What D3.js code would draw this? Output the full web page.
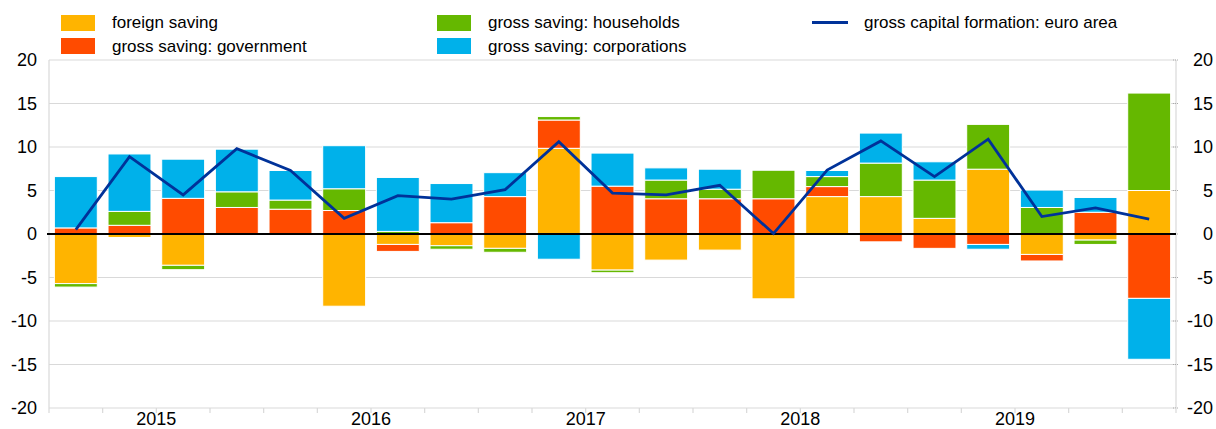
<!DOCTYPE html>
<html><head><meta charset="utf-8">
<script src="https://cdn.jsdelivr.net/npm/d3@7"></script>
<style>
html,body{margin:0;padding:0;background:#fff;}
svg text{font-family:"Liberation Sans",Arial,sans-serif;fill:#000;}
</style></head>
<body><svg id="c" width="1216" height="429"></svg>
<script>
const quarters = ["2015Q1","2015Q2","2015Q3","2015Q4","2016Q1","2016Q2","2016Q3","2016Q4","2017Q1","2017Q2","2017Q3","2017Q4","2018Q1","2018Q2","2018Q3","2018Q4","2019Q1","2019Q2","2019Q3","2019Q4","2020Q1"];
const yearLabels = ["2015","2016","2017","2018","2019"];
const yTicks = [-20,-15,-10,-5,0,5,10,15,20];
const seriesNames = ["foreign saving","gross saving: government","gross saving: households","gross saving: corporations"];
const lineName = "gross capital formation: euro area";
const foreignSaving = [-5.7,-0.4,-3.6,0,0,-8.3,-1.2,-1.35,-1.65,9.85,-4.15,-3.0,-1.85,-7.45,4.3,4.3,1.8,7.45,-2.35,-0.7,5.0];
const govSaving     = [0.7,1.0,4.1,3.05,2.85,2.7,-0.8,1.3,4.3,3.25,5.5,4.05,4.05,4.05,1.15,-0.9,-1.65,-1.2,-0.75,2.5,-7.4];
const hhSaving      = [-0.4,1.6,-0.5,1.8,1.05,2.5,0.3,-0.4,-0.45,0.4,-0.3,2.15,1.1,3.3,1.15,3.85,4.4,5.15,3.05,-0.5,11.2];
const corpSaving    = [5.9,6.6,4.5,4.9,3.4,4.95,6.2,4.5,2.75,-2.9,3.8,1.4,2.3,0.1,0.7,3.45,2.1,-0.55,2.0,1.7,-7.0];
const capFormation  = [0.5,8.9,4.5,9.8,7.3,1.8,4.4,4.0,5.1,10.6,4.7,4.5,5.6,0.05,7.35,10.7,6.6,10.9,2.0,3.0,1.7];
const colors = ["#FFB400","#FF4B00","#65B800","#00B1EA"];
const lineColor = "#003299";

const svg = d3.select("#c");
const L = 49, R = 1176, T = 60, B = 408;
const x = d3.scaleBand().domain(quarters).range([L, R]).paddingInner(0.2).paddingOuter(0.1);
const y = d3.scaleLinear().domain([-20, 20]).range([B, T]);
const fmt = d => String(d);

// gridlines
svg.append("g").selectAll("line").data(yTicks).join("line")
  .attr("x1", L).attr("x2", R).attr("y1", d => y(d)).attr("y2", d => y(d))
  .attr("stroke", "#d9d9d9").attr("stroke-width", 1.2);
// side borders
svg.append("line").attr("x1", L).attr("x2", L).attr("y1", T).attr("y2", B).attr("stroke", "#d9d9d9").attr("stroke-width", 1.2);
svg.append("line").attr("x1", R).attr("x2", R).attr("y1", T).attr("y2", B).attr("stroke", "#d9d9d9").attr("stroke-width", 1.2);

// axes
const yl = svg.append("g").attr("transform", `translate(${L - 12},0)`)
  .call(d3.axisLeft(y).tickValues(yTicks).tickSize(0).tickPadding(0).tickFormat(fmt));
const yr = svg.append("g").attr("transform", `translate(1213,0)`)
  .call(d3.axisLeft(y).tickValues(yTicks).tickSize(0).tickPadding(0).tickFormat(fmt));
[yl, yr].forEach(g => {
  g.select(".domain").remove();
  g.selectAll("text").style("font-size", "18px").attr("fill", "#000");
});
// small right tick marks
svg.append("g").selectAll("line").data(yTicks).join("line")
  .attr("x1", R - 3).attr("x2", R + 2).attr("y1", d => y(d)).attr("y2", d => y(d))
  .attr("stroke", "#aaa").attr("stroke-width", 1).attr("stroke-dasharray", "1,1");

// bottom tick marks at quarter boundaries
const step = x.step();
const bounds = d3.range(quarters.length + 1).map(i => L + i * step);
svg.append("g").selectAll("line").data(bounds).join("line")
  .attr("x1", d => d).attr("x2", d => d).attr("y1", B).attr("y2", B + 5)
  .attr("stroke", "#d9d9d9").attr("stroke-width", 1.2);
// year labels centered in each year
const xYear = d3.scalePoint().domain(yearLabels).range([L + 2 * step, L + (2 + 4 * (yearLabels.length - 1)) * step]);
svg.append("g").selectAll("text").data(yearLabels).join("text")
  .attr("x", d => xYear(d)).attr("y", 425).attr("text-anchor", "middle")
  .style("font-size", "18px").text(d => d);

// stacked bars
const table = quarters.map((q, i) => ({q, s0: foreignSaving[i], s1: govSaving[i], s2: hhSaving[i], s3: corpSaving[i]}));
const stack = d3.stack().keys(["s0","s1","s2","s3"]).offset(d3.stackOffsetDiverging);
const layers = stack(table);
svg.append("g").selectAll("g").data(layers).join("g")
  .attr("fill", (d, i) => colors[i])
  .selectAll("rect").data(d => d).join("rect")
  .attr("x", d => x(d.data.q)).attr("width", x.bandwidth())
  .attr("y", d => y(Math.max(d[0], d[1])))
  .attr("height", d => Math.abs(y(d[0]) - y(d[1])))
  .attr("stroke", "#fff").attr("stroke-width", 1);

// zero line
svg.append("line").attr("x1", L - 2).attr("x2", R).attr("y1", y(0)).attr("y2", y(0))
  .attr("stroke", "#000").attr("stroke-width", 2);

// line
const line = d3.line().x((d, i) => x(quarters[i]) + x.bandwidth() / 2).y(d => y(d));
svg.append("path").datum(capFormation).attr("d", line)
  .attr("fill", "none").attr("stroke", lineColor).attr("stroke-width", 2.8).attr("stroke-linejoin", "miter");

// legend
const leg = svg.append("g");
const legItems = [
  {name: seriesNames[0], c: colors[0], x: 61, row: 0},
  {name: seriesNames[1], c: colors[1], x: 61, row: 1},
  {name: seriesNames[2], c: colors[2], x: 437, row: 0},
  {name: seriesNames[3], c: colors[3], x: 437, row: 1}
];
legItems.forEach(d => {
  leg.append("rect").attr("x", d.x).attr("y", 15 + d.row * 23).attr("width", 34).attr("height", 16).attr("fill", d.c);
  leg.append("text").attr("x", d.x + 51).attr("y", 28 + d.row * 24).style("font-size", "17px").text(d.name);
});
leg.append("line").attr("x1", 812).attr("x2", 848).attr("y1", 22.5).attr("y2", 22.5).attr("stroke", lineColor).attr("stroke-width", 2.8);
leg.append("text").attr("x", 864).attr("y", 28).style("font-size", "17px").text(lineName);
</script></body></html>
